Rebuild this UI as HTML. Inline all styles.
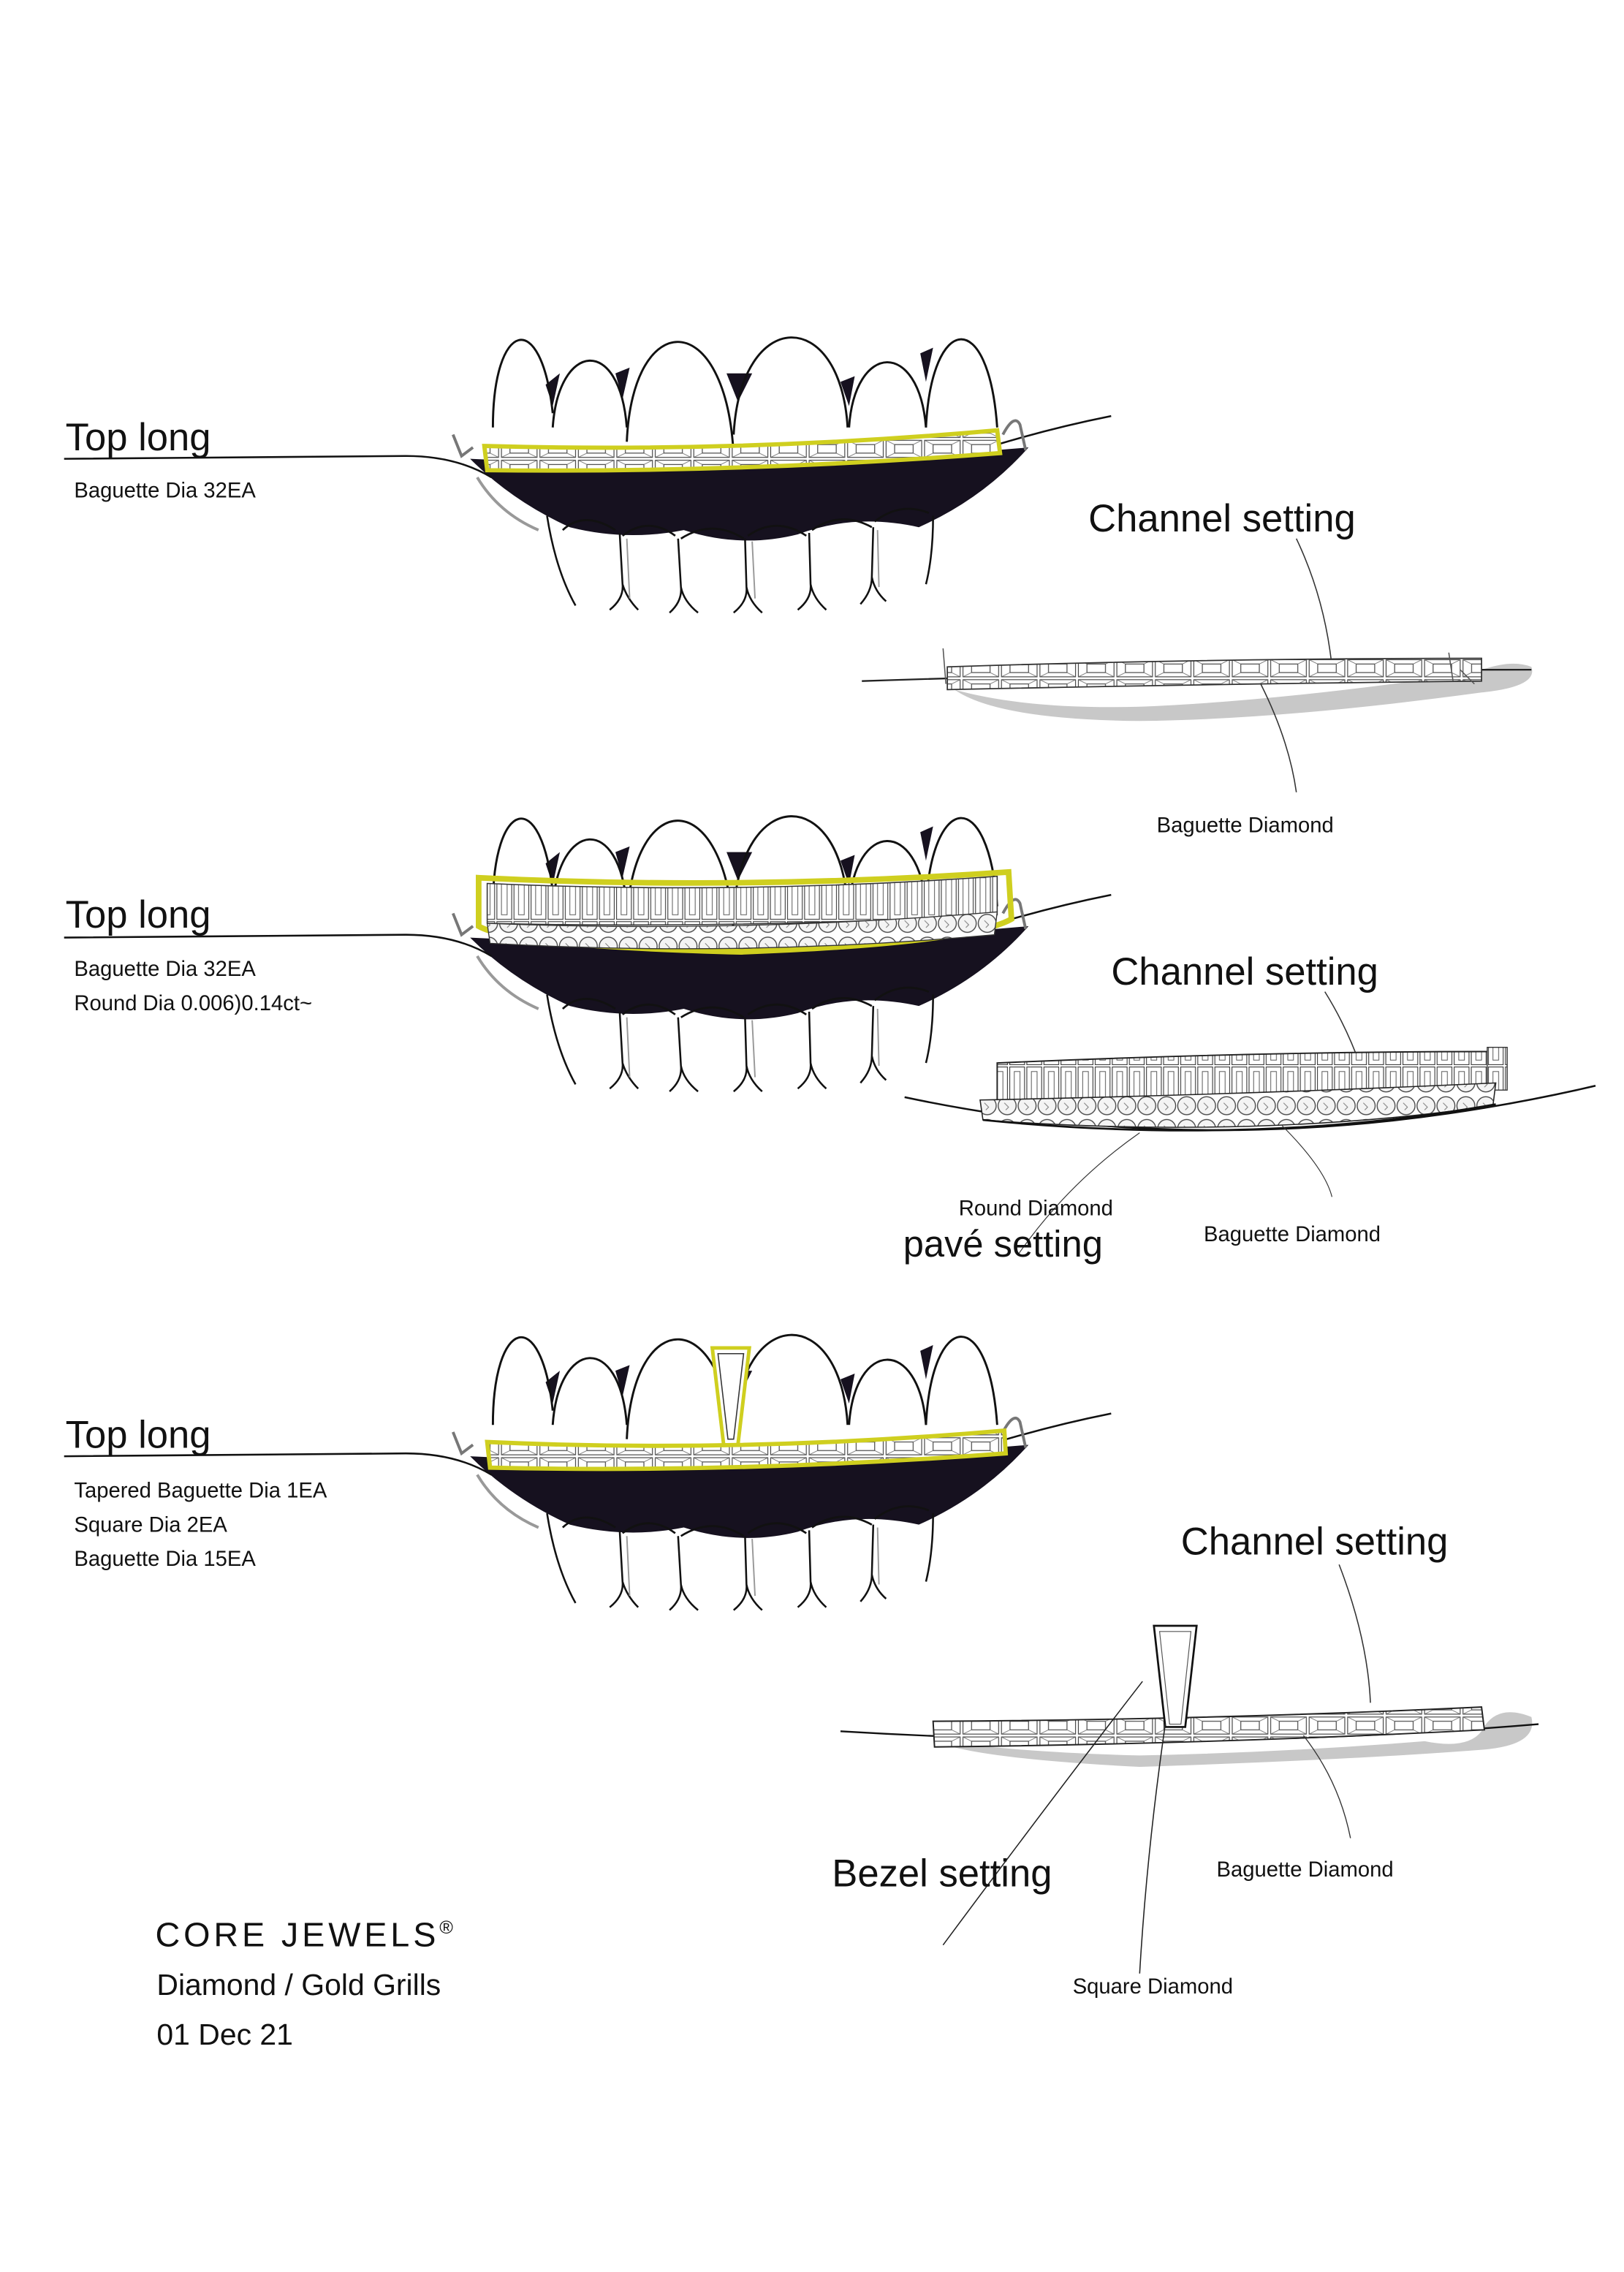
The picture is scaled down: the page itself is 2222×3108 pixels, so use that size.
<!DOCTYPE html>
<html><head><meta charset="utf-8"><style>
html,body{margin:0;padding:0;background:#fff}
svg{display:block}
text{font-family:"Liberation Sans",sans-serif;fill:#111}
</style></head><body>
<svg width="2222" height="3108" viewBox="0 0 1140 1594.5" preserveAspectRatio="none" xmlns="http://www.w3.org/2000/svg">
<defs>
<pattern id="bag" width="27" height="14" patternUnits="userSpaceOnUse">
<rect x="0" y="0" width="27" height="14" fill="#fff"/>
<rect x="1" y="1" width="25" height="12" fill="none" stroke="#444" stroke-width="0.6"/>
<rect x="7" y="4" width="13" height="6" fill="none" stroke="#444" stroke-width="0.6"/>
<path d="M1,1L7,4M26,1L20,4M1,13L7,10M26,13L20,10" stroke="#666" stroke-width="0.4"/>
</pattern>
<pattern id="tall" width="12" height="34" patternUnits="userSpaceOnUse">
<rect width="12" height="34" fill="#fff"/>
<rect x="0.8" y="0.8" width="10.4" height="32.4" fill="none" stroke="#444" stroke-width="0.6"/>
<rect x="4" y="4" width="4" height="26" fill="none" stroke="#555" stroke-width="0.5"/>
</pattern>
<pattern id="rnd" width="14" height="16" patternUnits="userSpaceOnUse">
<rect width="14" height="16" fill="#fff"/>
<circle cx="7" cy="8" r="6.3" fill="#f4f4f4" stroke="#444" stroke-width="0.7"/>
<path d="M5,6L8,9L6,11" stroke="#777" stroke-width="0.5" fill="none"/>
</pattern>
<g id="teeth">
<!-- dark mouth -->
<path d="M330,322 Q520,332 722,314 Q690,350 645,370 Q600,360 560,375 Q520,385 480,372 Q440,380 400,370 Q360,352 330,322Z" fill="#16111f"/>
<path d="M335,335 Q350,360 378,372" stroke="#999" stroke-width="2" fill="none"/>
<!-- gap triangles -->
<path d="M383,270 L393,262 L388,285Z M432,262 L442,258 L437,280Z M510,262 L528,262 L518,282Z M590,268 L600,264 L596,285Z M646,248 L655,244 L650,268Z" fill="#16111f"/>
<!-- upper arches -->
<g fill="none" stroke="#111" stroke-width="1.5">
<path d="M346,300 C346,225 380,215 388,290"/>
<path d="M388,300 C392,240 435,235 440,300"/>
<path d="M440,310 C444,215 510,215 515,320"/>
<path d="M515,305 C520,215 590,215 595,300"/>
<path d="M596,300 C600,240 645,238 650,300"/>
<path d="M650,300 C654,220 694,215 700,300"/>
</g>
<!-- lower teeth tops -->
<g fill="none" stroke="#111" stroke-width="1.4">
<path d="M395,372 Q410,358 432,372"/>
<path d="M437,376 Q455,362 474,376"/>
<path d="M478,378 Q500,364 522,378"/>
<path d="M525,376 Q545,362 566,376"/>
<path d="M570,372 Q590,358 612,370"/>
<path d="M614,366 Q632,352 652,360"/>
</g>
<!-- lower teeth sides with flared cusps -->
<g fill="none" stroke="#111" stroke-width="1.3">
<path d="M384,362 Q390,400 404,425"/>
<path d="M435,374 L437,410 Q438,420 428,428 M437,410 Q440,420 448,428"/>
<path d="M476,378 L478,412 Q479,422 470,430 M478,412 Q480,422 490,430"/>
<path d="M523,378 L524,412 Q525,422 515,430 M524,412 Q526,422 535,430"/>
<path d="M568,374 L569,410 Q570,420 560,428 M569,410 Q571,420 580,428"/>
<path d="M613,370 L612,405 Q612,415 604,424 M612,405 Q614,415 622,422"/>
<path d="M655,362 Q655,390 650,410"/>
</g>
<g fill="none" stroke="#999" stroke-width="1">
<path d="M440,378 L442,420 M528,380 L530,420 M616,372 L617,412"/>
</g>
<!-- lip line -->
<path d="M45,322 L285,320 Q320,320 345,335" stroke="#111" stroke-width="1.3" fill="none"/>
<path d="M700,312 Q740,300 780,292" stroke="#111" stroke-width="1.3" fill="none"/>
<path d="M318,305 L324,320 L332,314" stroke="#777" stroke-width="2" fill="none"/>
<path d="M704,305 Q712,290 716,298 L720,316" stroke="#777" stroke-width="2" fill="none"/>
</g>
</defs>

<!-- ===== GROUP 1 ===== -->
<use href="#teeth"/>
<path d="M340,313 Q520,318 700,302 L702,318 Q520,332 342,330Z" fill="url(#bag)" stroke="#cfcf1f" stroke-width="3"/>
<text x="46" y="316" font-size="27">Top long</text>
<text x="52" y="349" font-size="15">Baguette Dia 32EA</text>

<text x="764" y="373" font-size="27">Channel setting</text>
<path d="M910,378 Q930,420 935,468" stroke="#333" stroke-width="0.8" fill="none"/>
<path d="M670,484 Q720,498 800,496 Q900,492 1035,472 Q1060,462 1075,468 Q1080,482 1040,486 Q900,505 800,506 Q700,505 670,484Z" fill="#c8c8c8"/>
<path d="M605,478 Q840,470 1075,470" stroke="#222" stroke-width="1.2" fill="none"/>
<path d="M665,468 Q850,462 1040,462 L1040,478 Q850,480 665,484Z" fill="url(#bag)" stroke="#333" stroke-width="0.9"/>
<path d="M662,455 L664,480 M1017,458 L1020,478 M1025,470 L1035,480" stroke="#555" stroke-width="0.8"/>
<path d="M885,480 Q905,520 910,556" stroke="#333" stroke-width="0.8" fill="none"/>
<text x="812" y="584" font-size="15">Baguette Diamond</text>

<!-- ===== GROUP 2 ===== -->
<use href="#teeth" transform="translate(0,336)"/>
<path d="M336,616 Q520,625 708,612 L710,645 Q680,662 520,668 Q360,664 336,650Z" fill="none" stroke="#cfcf1f" stroke-width="4"/>
<path d="M342,620 Q520,628 700,615 L700,642 Q520,652 342,648Z" fill="url(#tall)" stroke="#333" stroke-width="0.8"/>
<path d="M342,648 Q520,655 700,640 L698,656 Q520,672 344,662Z" fill="url(#rnd)" stroke="#333" stroke-width="0.7"/>
<text x="46" y="651" font-size="27">Top long</text>
<text x="52" y="685" font-size="15">Baguette Dia 32EA</text>
<text x="52" y="709" font-size="15">Round Dia 0.006)0.14ct~</text>

<text x="780" y="691" font-size="27">Channel setting</text>
<path d="M930,696 Q945,720 955,748" stroke="#333" stroke-width="0.8" fill="none"/>
<path d="M635,770 Q870,820 1120,762" stroke="#111" stroke-width="1.3" fill="none"/>
<path d="M700,746 Q880,738 1045,738 L1045,762 Q880,768 700,772Z" fill="url(#tall)" stroke="#222" stroke-width="1"/>
<path d="M1044,735 L1058,735 L1058,765 L1044,765Z" fill="url(#tall)" stroke="#333" stroke-width="0.7"/>
<path d="M688,772 Q880,768 1050,760 L1048,776 Q880,800 690,786Z" fill="url(#rnd)" stroke="#222" stroke-width="0.8"/>
<path d="M690,786 Q880,805 1050,775" stroke="#111" stroke-width="1.4" fill="none"/>
<path d="M800,795 Q750,830 715,880" stroke="#333" stroke-width="0.6" fill="none"/>
<path d="M900,790 Q930,820 935,840" stroke="#333" stroke-width="0.6" fill="none"/>
<text x="673" y="853" font-size="15">Round Diamond</text>
<text x="634" y="882" font-size="26">pavé setting</text>
<text x="845" y="871" font-size="15">Baguette Diamond</text>

<!-- ===== GROUP 3 ===== -->
<use href="#teeth" transform="translate(0,700)"/>
<path d="M500,946 L526,946 L518,1014 L508,1014Z" fill="#fff" stroke="#cfcf1f" stroke-width="2.5"/>
<path d="M504,950 L522,950 L515,1010 L511,1010Z" fill="none" stroke="#333" stroke-width="0.8"/>
<path d="M342,1012 Q520,1020 705,1004 L706,1020 Q520,1034 344,1030Z" fill="url(#bag)" stroke="#cfcf1f" stroke-width="3"/>
<text x="46" y="1016" font-size="27">Top long</text>
<text x="52" y="1051" font-size="15">Tapered Baguette Dia 1EA</text>
<text x="52" y="1075" font-size="15">Square Dia 2EA</text>
<text x="52" y="1099" font-size="15">Baguette Dia 15EA</text>

<text x="829" y="1091" font-size="27">Channel setting</text>
<path d="M940,1098 Q960,1150 962,1195" stroke="#333" stroke-width="0.8" fill="none"/>
<path d="M660,1222 Q720,1230 800,1232 Q900,1230 1000,1222 Q1030,1228 1040,1215 Q1050,1195 1075,1205 Q1080,1225 1040,1228 Q950,1235 800,1240 Q700,1235 665,1225Z" fill="#c8c8c8"/>
<path d="M590,1215 Q840,1230 1080,1210" stroke="#111" stroke-width="1.2" fill="none"/>
<path d="M655,1208 Q850,1207 1040,1198 L1042,1214 Q850,1224 656,1226Z" fill="url(#bag)" stroke="#222" stroke-width="1"/>
<path d="M810,1141 L840,1141 L832,1212 L818,1212Z" fill="#fff" stroke="#111" stroke-width="1.4"/>
<path d="M814,1145 L836,1145 L829,1210 L821,1210Z" fill="none" stroke="#555" stroke-width="0.6"/>
<path d="M802,1180 Q740,1260 662,1365" stroke="#222" stroke-width="0.8" fill="none"/>
<path d="M818,1210 Q805,1300 800,1385" stroke="#222" stroke-width="0.8" fill="none"/>
<path d="M915,1218 Q940,1250 948,1290" stroke="#333" stroke-width="0.7" fill="none"/>
<text x="584" y="1324" font-size="27">Bezel setting</text>
<text x="854" y="1317" font-size="15">Baguette Diamond</text>
<text x="753" y="1399" font-size="15">Square Diamond</text>

<!-- footer -->
<text x="109" y="1366" font-size="24" letter-spacing="2.5">CORE JEWELS<tspan font-size="13" dy="-9">®</tspan></text>
<text x="110" y="1400" font-size="21">Diamond / Gold Grills</text>
<text x="110" y="1435" font-size="21">01 Dec 21</text>
</svg>
</body></html>
